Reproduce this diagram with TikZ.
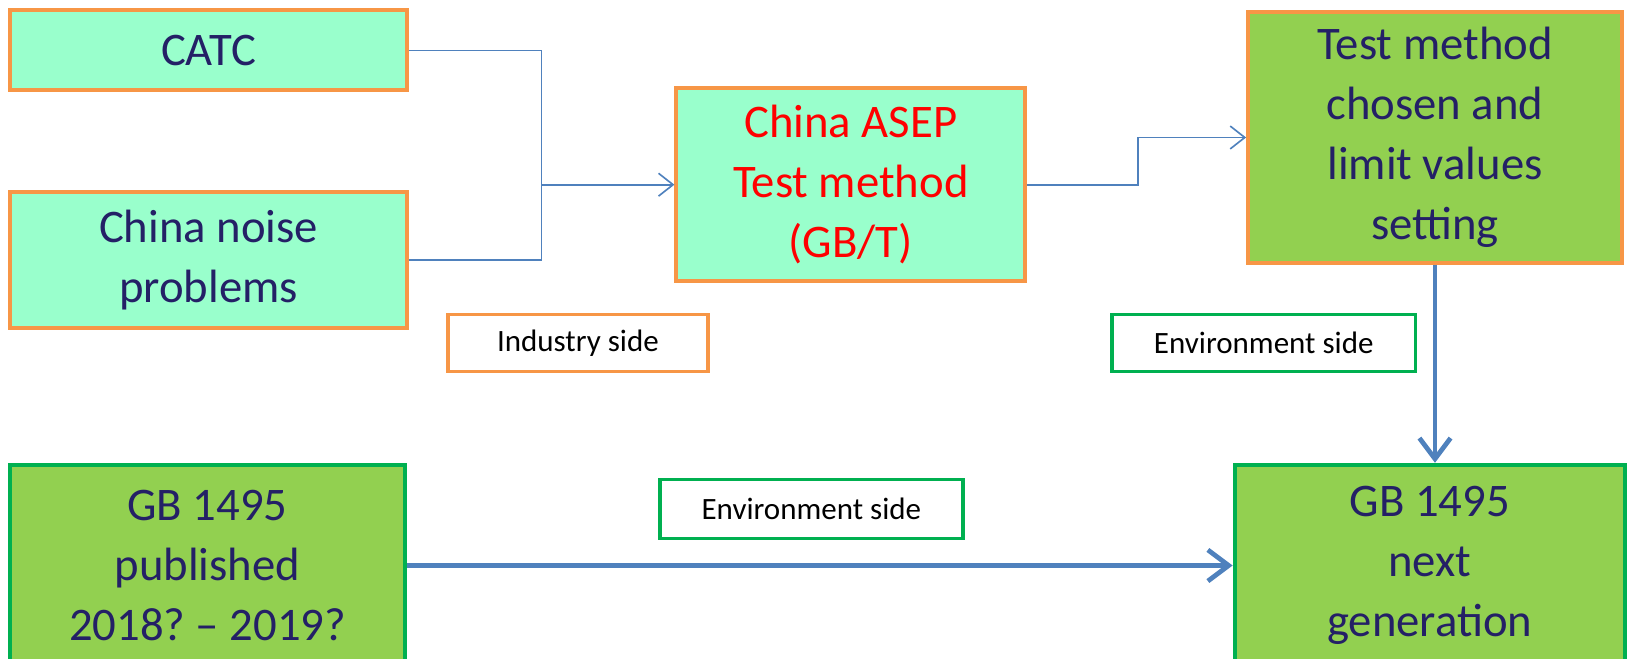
\documentclass[tikz,border=0pt]{standalone}
\usepackage{fontspec}
\setmainfont{Carlito}
\usetikzlibrary{arrows.meta}
\definecolor{mint}{RGB}{153,255,204}
\definecolor{leaf}{RGB}{146,208,80}
\definecolor{amber}{RGB}{247,150,70}
\definecolor{grass}{RGB}{0,176,80}
\definecolor{steel}{RGB}{79,129,189}
\definecolor{navy}{RGB}{36,32,102}
\frenchspacing
\begin{document}
\begin{tikzpicture}[x=0.01cm,y=-0.01cm,
  bigbox/.style={draw,line width=1.1pt,align=center,inner sep=0pt,text=navy,
    font=\fontsize{12.8}{16.4}\selectfont},
  industry/.style={bigbox,fill=mint,draw=amber},
  environ/.style={bigbox,fill=leaf},
  sidebox/.style={draw,line width=1pt,fill=white,inner sep=0pt,
    minimum width=2.92cm,minimum height=0.55cm,font=\fontsize{8.5}{10}\selectfont},
  link/.style={steel,line width=0.45pt},
  flow/.style={steel,line width=1.3pt}]
\useasboundingbox (0,0) rectangle (1570,635);
\node [industry,minimum width=3.82cm,minimum height=0.77cm] (catc) at (201,48.5) {CATC};
\node [industry,minimum width=3.82cm,minimum height=1.31cm] (noise) at (201,250.5) {China noise\\problems};
\node [industry,minimum width=3.36cm,minimum height=1.86cm,text=red] (asep) at (820,178) {China ASEP\\Test method\\(GB/T)};
\node [environ,draw=amber,minimum width=3.60cm,minimum height=2.41cm] (chosen) at (1383,132.5) {Test method\\chosen and\\limit values\\setting};
\node [environ,draw=grass,minimum width=3.80cm,minimum height=1.94cm] (published) at (200,545) {GB 1495\\published\\2018? -- 2019?};
\node [environ,draw=grass,minimum width=3.76cm,minimum height=1.94cm] (nextgen) at (1378,545) {GB 1495\\next\\generation};
\node [sidebox,draw=amber,minimum width=2.50cm] (indside) at (557,330.5) {Industry side};
\node [sidebox,draw=grass] (envside) at (1218,330.5) {Environment side};
\node [sidebox,draw=grass,minimum height=0.57cm] (envlow) at (782,490.5) {Environment side};
\coordinate (join) at (522,178);
\coordinate (step) at (1097,0);
\draw [link] (catc.east) -| (join);
\draw [link] (noise.east) -| (join);
\draw [link,-{Straight Barb[length=1.4mm,width=2.2mm]}] (join) -- (join -| asep.west);
\draw [link,-{Straight Barb[length=1.4mm,width=2.2mm]}] (asep.east) -| (step |- chosen.west) -- (chosen.west);
\draw [flow,-{Straight Barb[length=2mm,width=3mm]}] (chosen.south) -- (chosen.south |- nextgen.north);
\draw [flow,-{Straight Barb[length=2mm,width=3mm]}] (published.east) -- (nextgen.west);
\end{tikzpicture}
\end{document}
